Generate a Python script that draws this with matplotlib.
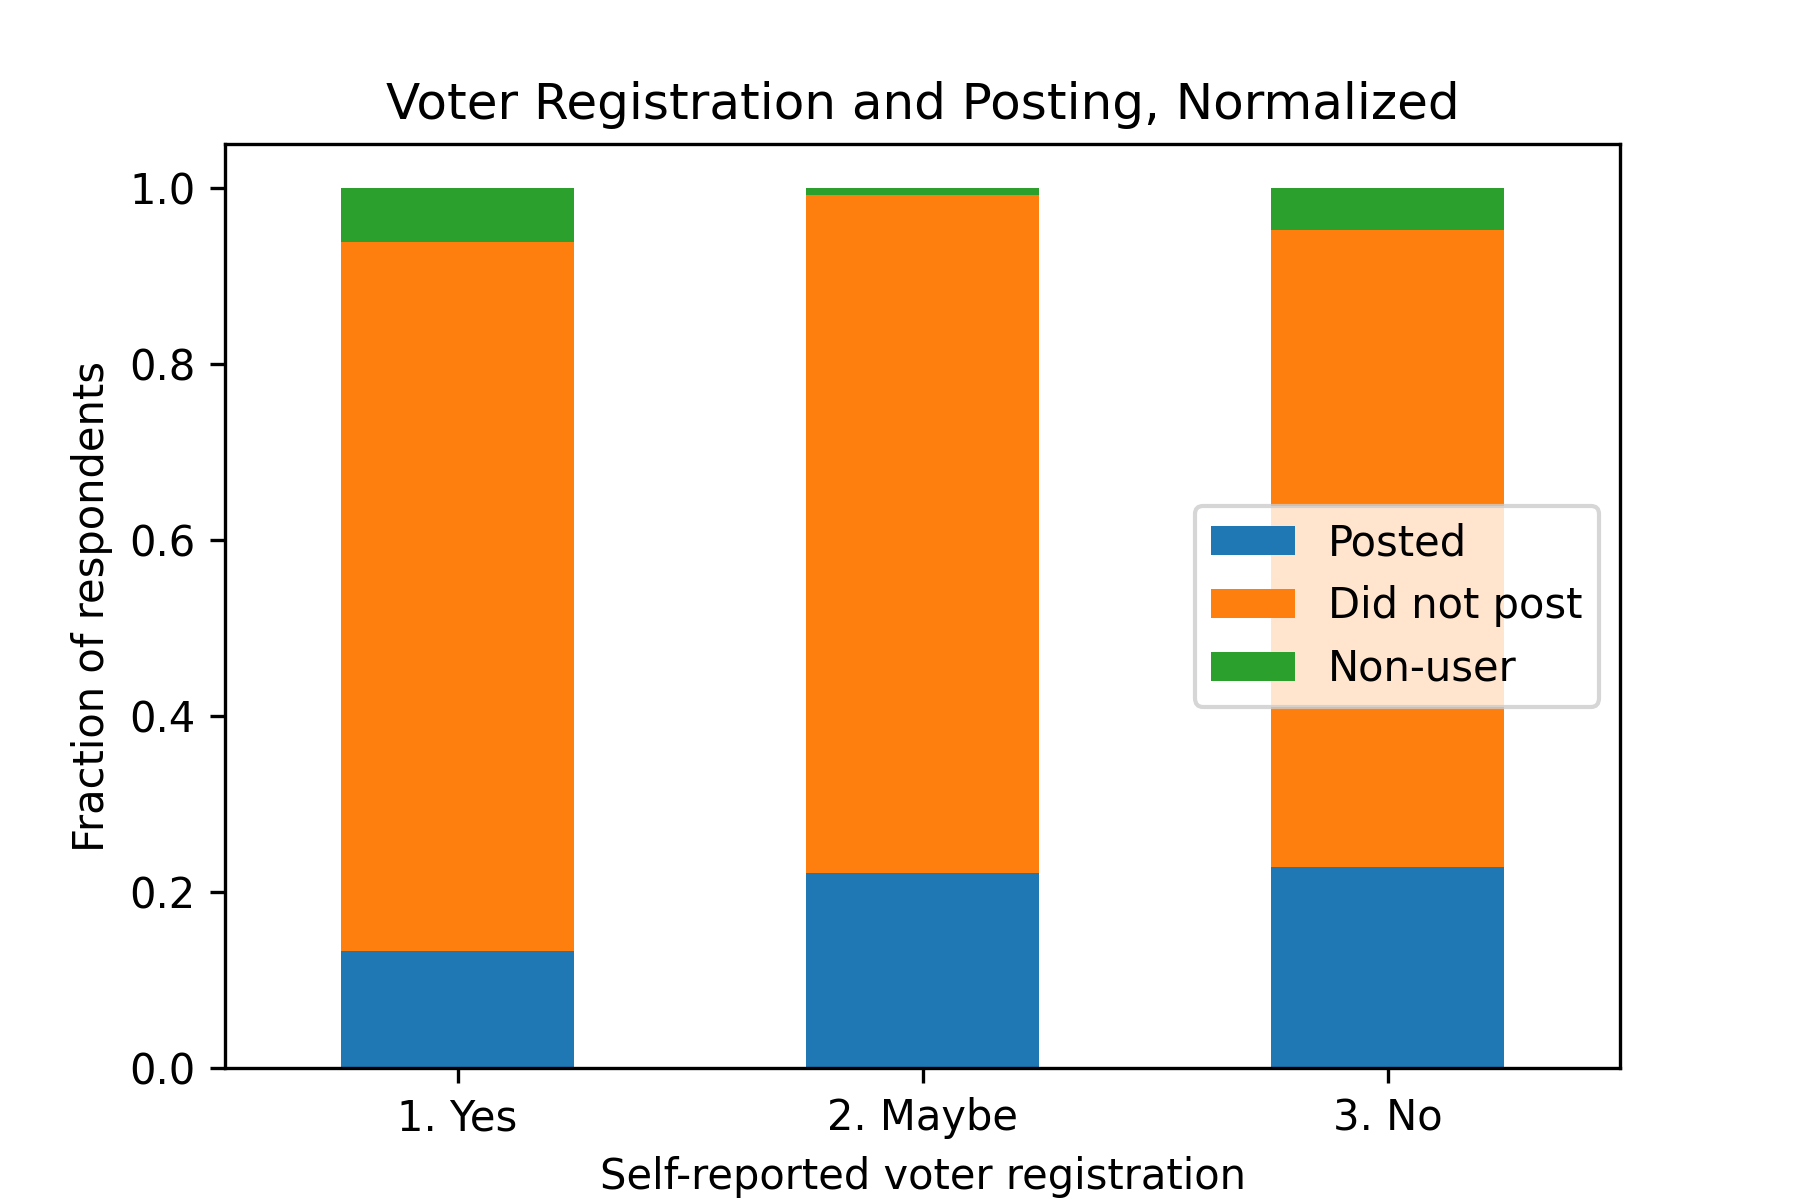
import matplotlib
matplotlib.use("Agg")
import matplotlib.pyplot as plt
import numpy as np

categories = ["1. Yes", "2. Maybe", "3. No"]
posted = [0.133, 0.222, 0.228]
did_not_post = [0.806, 0.770, 0.724]
non_user = [0.061, 0.008, 0.048]

fig, ax = plt.subplots(figsize=(6, 4), dpi=300)
x = np.arange(len(categories))
ax.bar(x, posted, 0.5, color="#1f77b4", label="Posted")
b1 = np.array(posted)
ax.bar(x, did_not_post, 0.5, bottom=b1, color="#ff7f0e", label="Did not post")
b2 = b1 + np.array(did_not_post)
ax.bar(x, non_user, 0.5, bottom=b2, color="#2ca02c", label="Non-user")
ax.set_xticks(x)
ax.set_xticklabels(categories)
ax.set_xlim(-0.5, 2.5)
ax.set_ylim(0, 1.05)
ax.set_xlabel("Self-reported voter registration")
ax.set_ylabel("Fraction of respondents")
ax.set_title("Voter Registration and Posting, Normalized")
ax.legend(loc="center right")
fig.savefig("out.png", dpi=300)
